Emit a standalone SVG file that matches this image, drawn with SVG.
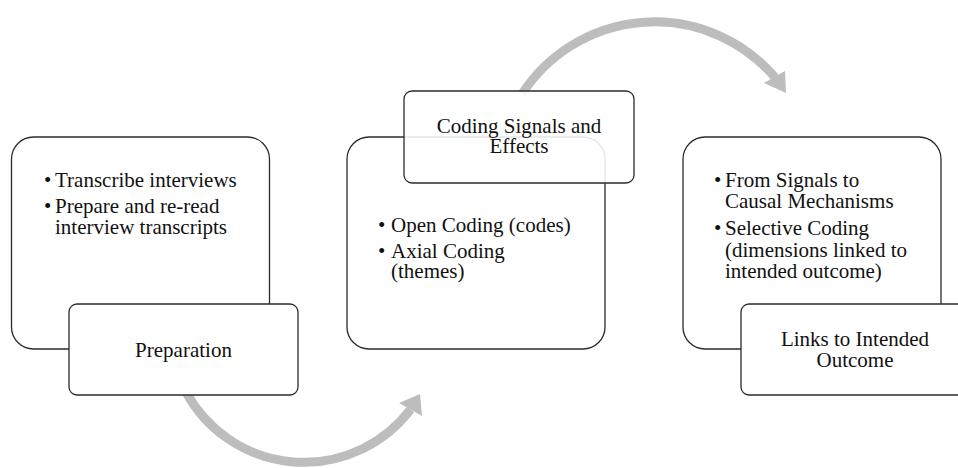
<svg xmlns="http://www.w3.org/2000/svg" width="958" height="468" viewBox="0 0 958 468">
  <style>
    .panel { fill: #ffffff; stroke: #2b2b2b; stroke-width: 1.3; }
    .tab { fill: #ffffff; stroke: #2b2b2b; stroke-width: 1.3; }
    .tab-soft { fill: #ffffff; fill-opacity: 0.88; stroke: #2b2b2b; stroke-width: 1.3; }
    .flow { fill: none; stroke: #bdbdbd; stroke-width: 9; }
    .head { fill: #bdbdbd; }
    text { font-family: "Liberation Serif", "Times New Roman", serif; font-size: 21px; fill: #111111; }
    .c { text-anchor: middle; }
  </style>

  <!-- curved flow arrows between the stages -->
  <g id="connectors">
    <path class="flow" d="M186,392 A134,134 0 0 0 410.5,409.5"/>
    <polygon class="head" points="399,403 420,394 422,416"/>
    <path class="flow" d="M522,94 A158,158 0 0 1 775,77.5"/>
    <polygon class="head" points="764,83 785,71 786,93"/>
  </g>

  <!-- stage 1 -->
  <g id="stage-preparation">
    <rect class="panel" x="11.5" y="137" width="258" height="212" rx="22"/>
    <text x="44" y="187">•</text>
    <text x="55" y="187">Transcribe interviews</text>
    <text x="44" y="213">•</text>
    <text x="55" y="213">Prepare and re-read</text>
    <text x="55" y="234">interview transcripts</text>
  </g>
  <g id="label-preparation">
    <rect class="tab" x="69" y="304" width="229" height="91" rx="8"/>
    <text class="c" x="183.5" y="357">Preparation</text>
  </g>

  <!-- stage 2 -->
  <g id="stage-coding">
    <rect class="panel" x="347" y="137" width="258" height="212" rx="22"/>
    <text x="378" y="232">•</text>
    <text x="391" y="232">Open Coding (codes)</text>
    <text x="378" y="258">•</text>
    <text x="391" y="258">Axial Coding</text>
    <text x="391" y="278">(themes)</text>
  </g>
  <g id="label-coding">
    <rect class="tab-soft" x="404" y="91" width="230" height="92" rx="8"/>
    <text class="c" x="519" y="133">Coding Signals and</text>
    <text class="c" x="519" y="153">Effects</text>
  </g>

  <!-- stage 3 -->
  <g id="stage-links">
    <rect class="panel" x="683" y="137" width="258" height="212" rx="22"/>
    <text x="714" y="187">•</text>
    <text x="725" y="187">From Signals to</text>
    <text x="725" y="208">Causal Mechanisms</text>
    <text x="714" y="235">•</text>
    <text x="725" y="235">Selective Coding</text>
    <text x="725" y="257">(dimensions linked to</text>
    <text x="725" y="278">intended outcome)</text>
  </g>
  <g id="label-links">
    <rect class="tab" x="741" y="304" width="229" height="91" rx="8"/>
    <text class="c" x="855" y="346">Links to Intended</text>
    <text class="c" x="855" y="367">Outcome</text>
  </g>
</svg>
